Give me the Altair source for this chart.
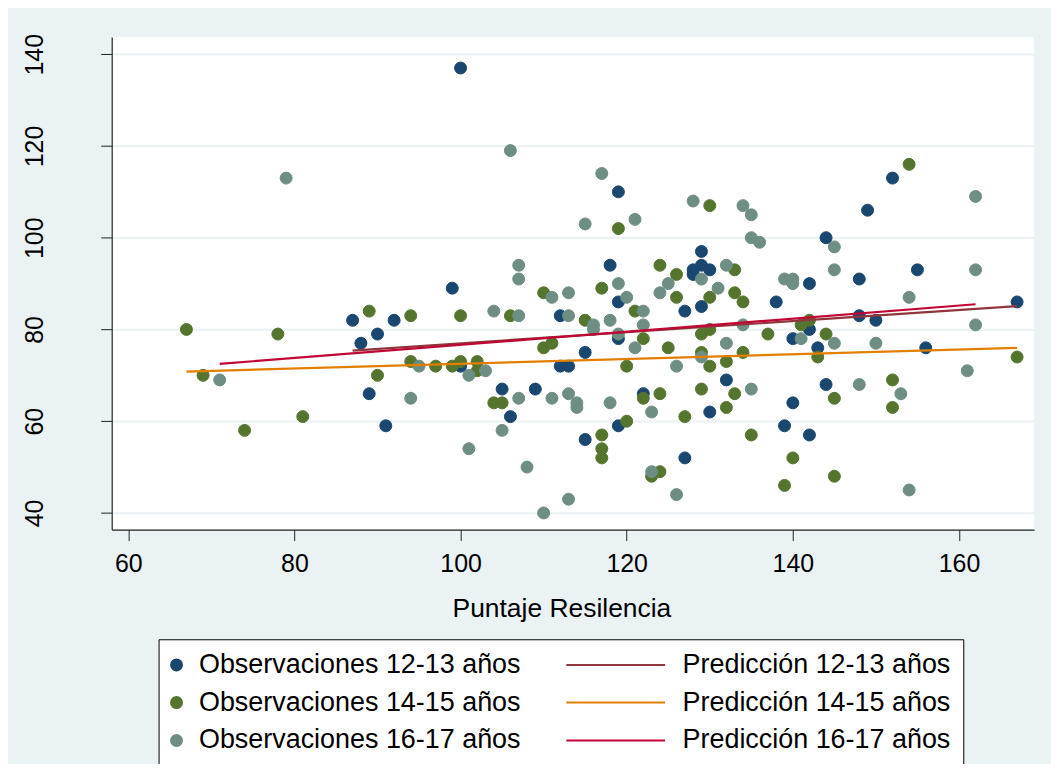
import altair as alt
import pandas as pd

# ---- data ----
obs1_x = [100, 87, 92, 90, 88, 89, 91, 99, 100, 105, 109, 106, 119, 118, 129, 128, 129, 130, 128,
          119, 112, 127, 129, 138, 115, 112, 113, 119, 122, 132, 130, 119, 115, 127, 140, 139,
          152, 149, 144, 155, 148, 142, 167, 148, 150, 142, 140, 143, 156, 144, 142]
obs1_y = [137, 82, 82, 79, 77, 66, 59, 89, 72, 67, 67, 61, 110, 94, 97, 93, 94, 93, 92,
          86, 83, 84, 85, 86, 75, 72, 72, 78, 66, 69, 62, 59, 56, 52, 64, 59,
          113, 106, 100, 93, 91, 90, 86, 83, 82, 80, 78, 76, 76, 68, 57]

obs2_x = [67, 78, 69, 74, 81, 89, 94, 90, 94, 97, 99, 100, 100, 102, 102, 106, 104, 105, 110, 110,
          111, 130, 119, 124, 126, 133, 117, 126, 130, 133, 134, 121, 115, 130, 129, 122, 137, 125,
          120, 129, 130, 132, 134, 122, 124, 129, 133, 132, 127, 120, 117, 117, 117, 124, 123, 135,
          140, 139, 154, 142, 141, 144, 143, 167, 152, 152, 145, 145]
obs2_y = [80, 79, 70, 58, 61, 84, 83, 70, 73, 72, 72, 73, 83, 73, 71, 83, 64, 64, 88, 76,
          77, 107, 102, 94, 92, 93, 89, 87, 87, 88, 86, 84, 82, 80, 79, 78, 79, 76,
          72, 75, 72, 73, 75, 65, 66, 67, 66, 63, 61, 60, 57, 54, 52, 49, 48, 57,
          52, 46, 116, 82, 81, 79, 74, 74, 69, 63, 65, 48]

obs3_x = [79, 106, 107, 107, 71, 94, 95, 101, 103, 104, 107, 107, 105, 101, 108, 110, 111, 111,
          117, 115, 121, 128, 134, 135, 135, 136, 119, 113, 120, 124, 125, 129, 131, 132, 139,
          113, 116, 116, 118, 122, 122, 134, 121, 119, 132, 129, 126, 113, 114, 114, 118, 123,
          135, 123, 113, 126, 162, 145, 145, 140, 140, 154, 162, 162, 141, 145, 150, 161, 148,
          153, 154]
obs3_y = [113, 119, 94, 91, 69, 65, 72, 70, 71, 84, 83, 65, 58, 54, 50, 40, 87, 65,
          114, 103, 104, 108, 107, 105, 100, 99, 90, 88, 87, 88, 90, 91, 89, 94, 91,
          83, 81, 80, 82, 84, 81, 81, 76, 79, 77, 74, 72, 66, 64, 63, 64, 62,
          67, 49, 43, 44, 109, 98, 93, 91, 90, 87, 93, 81, 78, 77, 77, 71, 68,
          66, 45]

# fitted (linear prediction) lines: end points
pred1_x = [87, 167]
pred1_y = [75.4, 85.1]
pred2_x = [67, 167]
pred2_y = [70.8, 76.0]
pred3_x = [71, 162]
pred3_y = [72.5, 85.5]

obs_labels = ["Observaciones 12-13 años", "Observaciones 14-15 años", "Observaciones 16-17 años"]
pred_labels = ["Predicción 12-13 años", "Predicción 14-15 años", "Predicción 16-17 años"]

x_ticks = [60, 80, 100, 120, 140, 160]
y_ticks = [40, 60, 80, 100, 120, 140]

# ---- styling ----
obs_colors = ["#1a476f", "#55752f", "#6e8e84"]
pred_colors = ["#90353b", "#e37e00", "#c10534"]
LINE_SYMBOL = "M-17.1,0L0.9,0"
FONT = "Liberation Sans"

obs_df = pd.concat([
    pd.DataFrame({"x": xs, "y": ys, "series": lab})
    for xs, ys, lab in zip([obs1_x, obs2_x, obs3_x], [obs1_y, obs2_y, obs3_y], obs_labels)
], ignore_index=True)
pred_df = pd.concat([
    pd.DataFrame({"x": xs, "y": ys, "series": lab})
    for xs, ys, lab in zip([pred1_x, pred2_x, pred3_x], [pred1_y, pred2_y, pred3_y], pred_labels)
], ignore_index=True)

# legend fills column by column: observations left, predictions right
domain = obs_labels + pred_labels
colors = obs_colors + pred_colors
shapes = ["circle"] * 3 + [LINE_SYMBOL] * 3

legend = alt.Legend(
    title=None, orient="none", legendX=47, legendY=604, columns=2,
    columnPadding=40, rowPadding=10, padding=12,
    fillColor="white", strokeColor="black",
    labelFont=FONT, labelFontSize=27, labelColor="black", labelLimit=700,
    labelOffset=9, symbolOffset=-7.5,
    symbolSize=121, symbolStrokeWidth=2, symbolOpacity=1,
)

xscale = alt.Scale(domain=[58, 169.04], nice=False, zero=False)
yscale = alt.Scale(domain=[36.37, 143.76], nice=False, zero=False)

xaxis = alt.Axis(
    values=x_ticks, title="Puntaje Resilencia", grid=False,
    labelFont=FONT, labelFontSize=25, labelColor="black",
    labelBaseline="alphabetic", labelPadding=31,
    tickSize=11, tickColor="#222", domainColor="#222", domainWidth=1.2,
    titleFont=FONT, titleFontSize=26.5, titleFontWeight="normal", titleColor="black",
    titleX=451, titleY=87, titleBaseline="alphabetic", titleAlign="center",
)
yaxis = alt.Axis(
    values=y_ticks, title=None, grid=True, gridColor="#eaf2f3", gridWidth=2,
    labelFont=FONT, labelFontSize=25, labelColor="black",
    labelAngle=-90, labelAlign="center", labelBaseline="alphabetic", labelPadding=58,
    tickSize=11, tickColor="#222", domainColor="#222", domainWidth=1.2,
)

fill_enc = alt.Fill("series:N", scale=alt.Scale(domain=domain, range=colors), legend=legend)
stroke_enc = alt.Stroke("series:N", scale=alt.Scale(domain=domain, range=colors), legend=legend)
shape_enc = alt.Shape("series:N", scale=alt.Scale(domain=domain, range=shapes), legend=legend)

points = alt.Chart(obs_df).mark_point(filled=True, opacity=1, size=144, strokeWidth=1).encode(
    x=alt.X("x:Q", scale=xscale, axis=xaxis),
    y=alt.Y("y:Q", scale=yscale, axis=yaxis),
    fill=fill_enc,
    stroke=stroke_enc,
    shape=shape_enc,
)

lines = alt.Chart(pred_df).mark_line(strokeWidth=2.2).encode(
    x=alt.X("x:Q", scale=xscale, axis=xaxis),
    y=alt.Y("y:Q", scale=yscale, axis=yaxis),
    stroke=stroke_enc,
)

chart = alt.layer(points, lines).properties(
    width=925, height=494,
    padding={"left": 104, "top": 28, "right": 17, "bottom": 234},
    autosize=alt.AutoSizeParams(type="none"),
    background="#eaf2f3",
).configure_view(fill="white", stroke=None)

chart.save("out.html", embed_options={"renderer": "svg", "actions": False})
